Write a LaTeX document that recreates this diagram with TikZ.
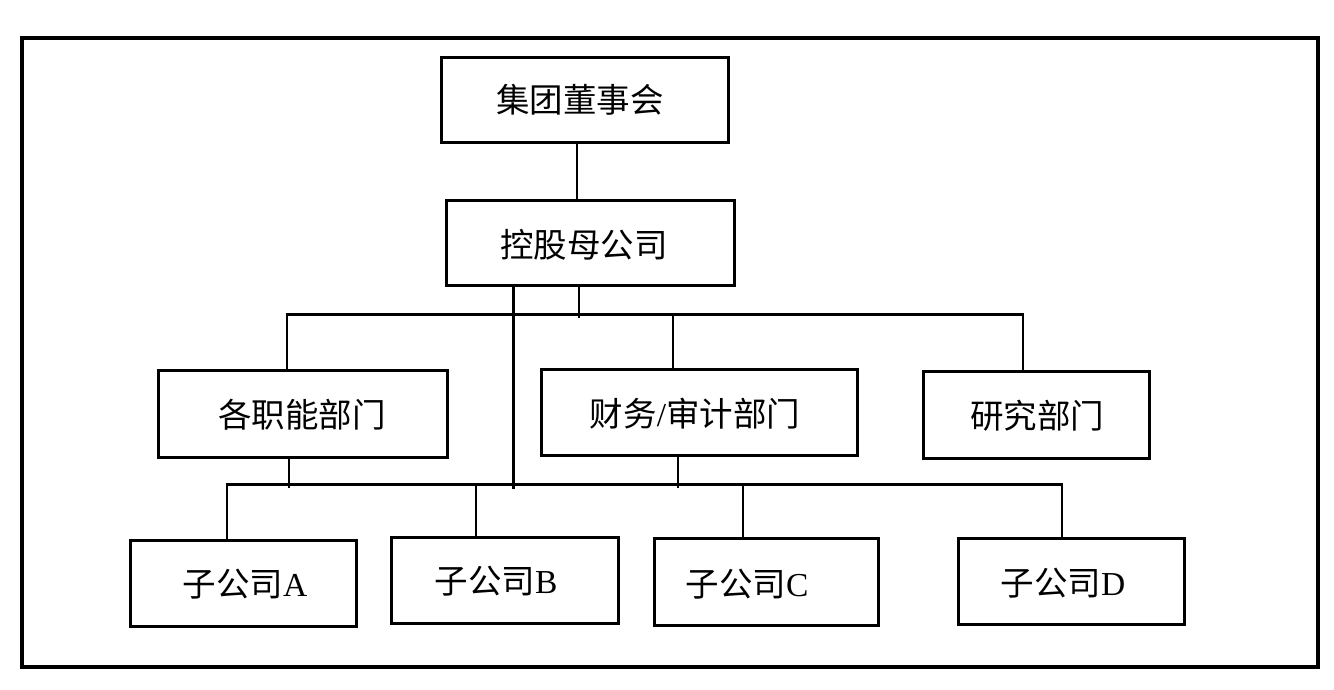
\documentclass[tikz,border=0pt]{standalone}
\usepackage{fontspec}
\setmainfont{Liberation Serif}
\newfontfamily\cjk{Noto Sans CJK SC}
\begin{document}
\begin{tikzpicture}[x=1pt,y=-1pt,
  box/.style={draw=black,line width=3pt,rectangle,inner sep=0pt,fill=white},
  lbl/.style={inner sep=0pt,font=\fontsize{33.5}{38}\selectfont},
  conn/.style={line width=2.2pt},
  thickconn/.style={line width=3pt}]
\useasboundingbox (0,0) rectangle (1334,689);
\fill[white] (0,0) rectangle (1334,689);
\draw[line width=3.5pt] (22,38) rectangle (1318,667);
% boxes
\node[box,minimum width=287,minimum height=85] (top) at (584.5,99.5) {};
\node[box,minimum width=288,minimum height=85] (hold) at (590,242.5) {};
\node[box,minimum width=289,minimum height=87] (func) at (302.5,413.5) {};
\node[box,minimum width=316,minimum height=86] (fin) at (699,412) {};
\node[box,minimum width=226,minimum height=87] (res) at (1036,414.5) {};
\node[box,minimum width=226,minimum height=86] (A) at (243,583) {};
\node[box,minimum width=227,minimum height=86] (B) at (504.5,580) {};
\node[box,minimum width=224,minimum height=87] (C) at (766,581.5) {};
\node[box,minimum width=226,minimum height=86] (D) at (1071,581) {};
% labels
\node[lbl] (ttop) at (580,100) {\cjk 集团董事会};
\node[lbl] (thold) at (584,245) {\cjk 控股母公司};
\node[lbl] (tfunc) at (302,415) {\cjk 各职能部门};
\node[lbl] (tfin) at (695,414) {{\cjk 财务}/{\cjk 审计部门}};
\node[lbl] (tres) at (1037,416) {\cjk 研究部门};
\node[lbl] (tA) at (245,584) {{\cjk 子公司}A};
\node[lbl] (tB) at (496,581) {{\cjk 子公司}B};
\node[lbl] (tC) at (747,584) {{\cjk 子公司}C};
\node[lbl] (tD) at (1063,583) {{\cjk 子公司}D};
% connectors
\draw[conn] ([xshift=-7.5]top.south) -- ([xshift=-13]hold.north);
\draw[conn] ([xshift=-11]hold.south) -- ++(0,31);
\draw[conn] ([xshift=-15.5]func.north) -- ++(0,-54) -| ([xshift=-13]res.north);
\draw[conn] ([xshift=-26]fin.north) -- ++(0,-53);
\draw[thickconn] ([xshift=-77]hold.south) -- ++(0,202);
\draw[conn] ([xshift=-13.5]func.south) -- ++(0,29);
\draw[conn] ([xshift=-21]fin.south) -- ++(0,31);
\draw[conn] ([xshift=-16]A.north) -- ++(0,-54) -| ([xshift=-9]D.north);
\draw[conn] ([xshift=-28.5]B.north) -- ++(0,-51);
\draw[conn] ([xshift=-23]C.north) -- ++(0,-52);
\end{tikzpicture}
\end{document}
